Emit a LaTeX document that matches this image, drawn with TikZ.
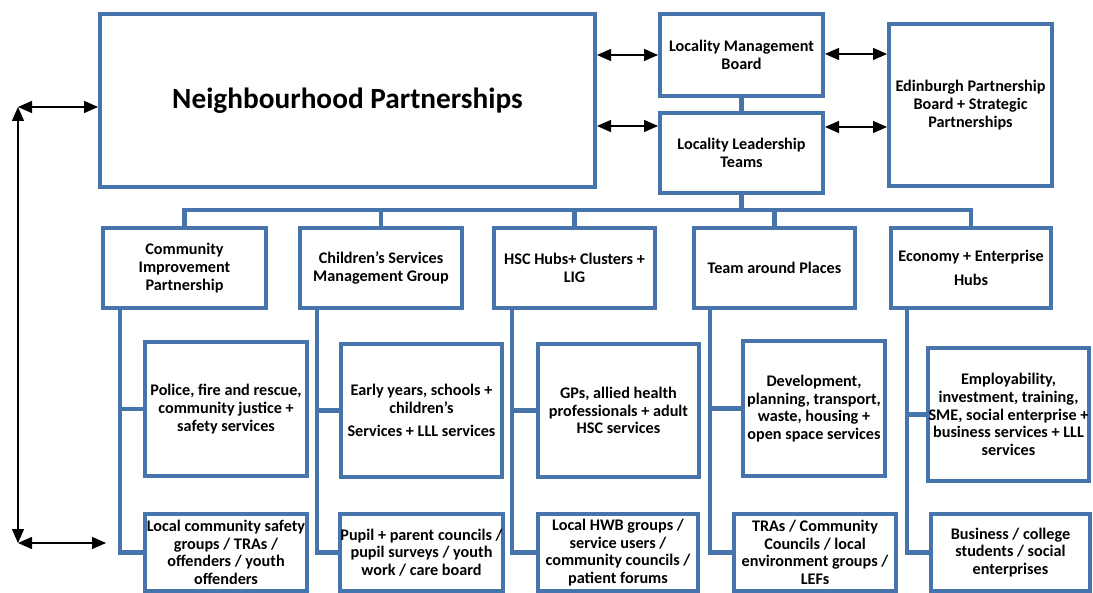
\documentclass[tikz,border=0pt]{standalone}
\usepackage{fontspec}
\setmainfont{Carlito}
\usetikzlibrary{arrows.meta}
\definecolor{boxblue}{RGB}{72,116,172}
\begin{document}
\begin{tikzpicture}[x=1pt,y=-1pt,
  box/.style={draw=boxblue, line width=4pt, fill=white, inner sep=0pt,
    align=center, font=\bfseries\fontsize{16.2}{17.6}\selectfont},
  link/.style={draw=boxblue, line width=4.5pt},
  arr/.style={draw=black, line width=1.4pt, {Triangle[length=14pt,width=12pt]}-{Triangle[length=14pt,width=12pt]}}]
\useasboundingbox (0,0) rectangle (1093,593);
\clip (0,0) rectangle (1093,593);

% top row
\node[box, minimum width=495, minimum height=173,
  font=\bfseries\fontsize{29.3}{33}\selectfont] (np) at (347.5,100.5) {Neighbourhood Partnerships};
\node[box, minimum width=163, minimum height=82] (lmb) at (741.5,55) {Locality Management\\Board};
\node[box, minimum width=163, minimum height=80] (llt) at (741.5,153) {Locality Leadership\\Teams};
\node[box, minimum width=163, minimum height=162] (edin) at (970.5,105) {Edinburgh Partnership\\Board + Strategic\\Partnerships};

% second row
\node[box, minimum width=163, minimum height=80] (cip) at (184.5,268) {Community\\Improvement\\Partnership};
\node[box, minimum width=162, minimum height=80] (csmg) at (381,268) {Children’s Services\\Management Group};
\node[box, minimum width=161, minimum height=80] (hsc) at (574.5,268) {HSC Hubs+ Clusters +\\LIG};
\node[box, minimum width=161, minimum height=80] (tap) at (774.5,268) {Team around Places};
\node[box, minimum width=160, minimum height=80] (econ) at (971,268) {Economy + Enterprise\\[6pt]Hubs};

% services
\node[box, minimum width=162, minimum height=134] (police) at (226,409) {Police, fire and rescue,\\community justice +\\safety services};
\node[box, minimum width=161, minimum height=133] (early) at (421.5,410.5) {Early years, schools +\\children’s\\[6pt]Services + LLL services};
\node[box, minimum width=161, minimum height=133] (gps) at (618.5,410.5) {GPs, allied health\\professionals + adult\\HSC services};
\node[box, minimum width=142, minimum height=135] (dev) at (814,408.5) {Development,\\planning, transport,\\waste, housing +\\open space services};
\node[box, minimum width=161, minimum height=133] (emp) at (1008.5,414.5) {Employability,\\investment, training,\\SME, social enterprise +\\business services + LLL\\services};

% community groups
\node[box, minimum width=162, minimum height=77] (lcs) at (226,552.5) {Local community safety\\groups / TRAs /\\offenders / youth\\offenders};
\node[box, minimum width=161, minimum height=77] (pupil) at (421.5,552.5) {Pupil + parent councils /\\pupil surveys / youth\\work / care board};
\node[box, minimum width=160, minimum height=77] (hwb) at (618,552.5) {Local HWB groups /\\service users /\\community councils /\\patient forums};
\node[box, minimum width=162, minimum height=77] (tras) at (815,552.5) {TRAs / Community\\Councils / local\\environment groups /\\LEFs};
\node[box, minimum width=159, minimum height=77] (bus) at (1010.5,552.5) {Business / college\\students / social\\enterprises};

% bus level and trunk positions
\coordinate (busline) at (0,210);
\coordinate (cipT) at (120,0);
\coordinate (csmgT) at (317,0);
\coordinate (hscT) at (512,0);
\coordinate (tapT) at (710,0);
\coordinate (econT) at (907,0);

% blue structure lines
\draw[link] (lmb) -- (llt);
\draw[link] (llt.south) -- (llt.south |- busline);
\draw[link] (cip.north) -- (cip.north |- busline) -| (econ.north);
\draw[link] (csmg.north) -- (csmg.north |- busline);
\draw[link] (hsc.north) -- (hsc.north |- busline);
\draw[link] (tap.north) -- (tap.north |- busline);

\draw[link] (cip.south -| cipT) |- (lcs.west);
\draw[link] (cipT |- police.west) -- (police.west);
\draw[link] (csmg.south -| csmgT) |- (pupil.west);
\draw[link] (csmgT |- early.west) -- (early.west);
\draw[link] (hsc.south -| hscT) |- (hwb.west);
\draw[link] (hscT |- gps.west) -- (gps.west);
\draw[link] (tap.south -| tapT) |- (tras.west);
\draw[link] (tapT |- dev.west) -- (dev.west);
\draw[link] (econ.south -| econT) |- (bus.west);
\draw[link] (econT |- emp.west) -- (emp.west);

% two-way arrows
\coordinate (r1) at (0,126);
\coordinate (r2) at (0,54);
\coordinate (r3) at (0,127);
\draw[arr] (np.east |- lmb.west) -- (lmb.west);
\draw[arr] (np.east |- r1) -- (llt.west |- r1);
\draw[arr] (lmb.east |- r2) -- (edin.west |- r2);
\draw[arr] (llt.east |- r3) -- (edin.west |- r3);

\coordinate (L1) at (18,107);
\coordinate (L2) at (18,543);
\coordinate (L3) at (106,543);
\draw[arr] (L1) -- (L2);
\draw[arr] (L1) -- (np.west |- L1);
\draw[arr] (L2) -- (L3);
\end{tikzpicture}
\end{document}
